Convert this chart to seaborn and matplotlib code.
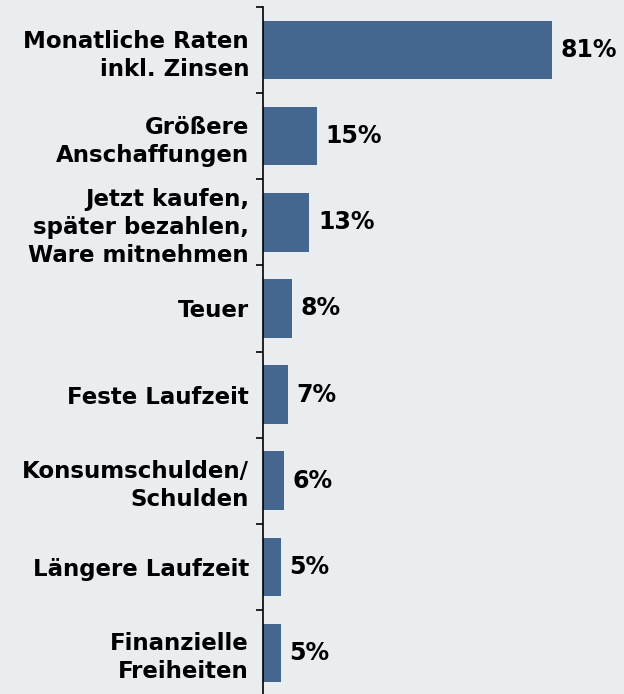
import numpy as np
import pandas as pd
import matplotlib
matplotlib.use("Agg")
import matplotlib.pyplot as plt
import seaborn as sns

# Data
categories = [
    "Monatliche Raten\ninkl. Zinsen",
    "Größere\nAnschaffungen",
    "Jetzt kaufen,\nspäter bezahlen,\nWare mitnehmen",
    "Teuer",
    "Feste Laufzeit",
    "Konsumschulden/\nSchulden",
    "Längere Laufzeit",
    "Finanzielle\nFreiheiten",
]
values = [81, 15, 13, 8, 7, 6, 5, 5]

df = pd.DataFrame({"category": categories, "value": values})

bg = "#e9edf0"
bar_color = "#45678f"

sns.set_style("white")
plt.rcParams["font.family"] = ["DejaVu Sans"]

fig = plt.figure(figsize=(6.24, 6.94), dpi=100, facecolor=bg)
ax = fig.add_axes([263 / 624, -2 / 694, 361 / 624, 689 / 694])
ax.set_facecolor(bg)

sns.barplot(data=df, x="value", y="category", orient="h", color=bar_color,
            width=0.68, saturation=1, linewidth=0, edgecolor="none", ax=ax)

ax.set_xlim(0, 101.2)
ax.set_ylim(len(categories) - 0.5, -0.5)

# value labels
for i, v in enumerate(values):
    ax.text(v + 2.4, i, f"{v}%", va="center", ha="left",
            fontsize=17, fontweight="bold", color="black")

# category labels at centers, tick marks at boundaries
ax.set_yticks(range(len(categories)))
ax.set_yticklabels(categories, fontsize=16.5, fontweight="bold", ha="right",
                   color="black", linespacing=1.28)
ax.tick_params(axis="y", which="major", length=0, pad=10, left=False)
ax.set_yticks(np.arange(-0.5, len(categories), 1), minor=True)
ax.tick_params(axis="y", which="minor", left=True, length=5, width=1.2,
               direction="out", color="black")
ax.set_xticks([])
ax.set_xlabel("")
ax.set_ylabel("")

for side in ["top", "right", "bottom"]:
    ax.spines[side].set_visible(False)
ax.spines["left"].set_color("black")
ax.spines["left"].set_linewidth(1.2)

fig.savefig("out.png", dpi=100, facecolor=bg)
